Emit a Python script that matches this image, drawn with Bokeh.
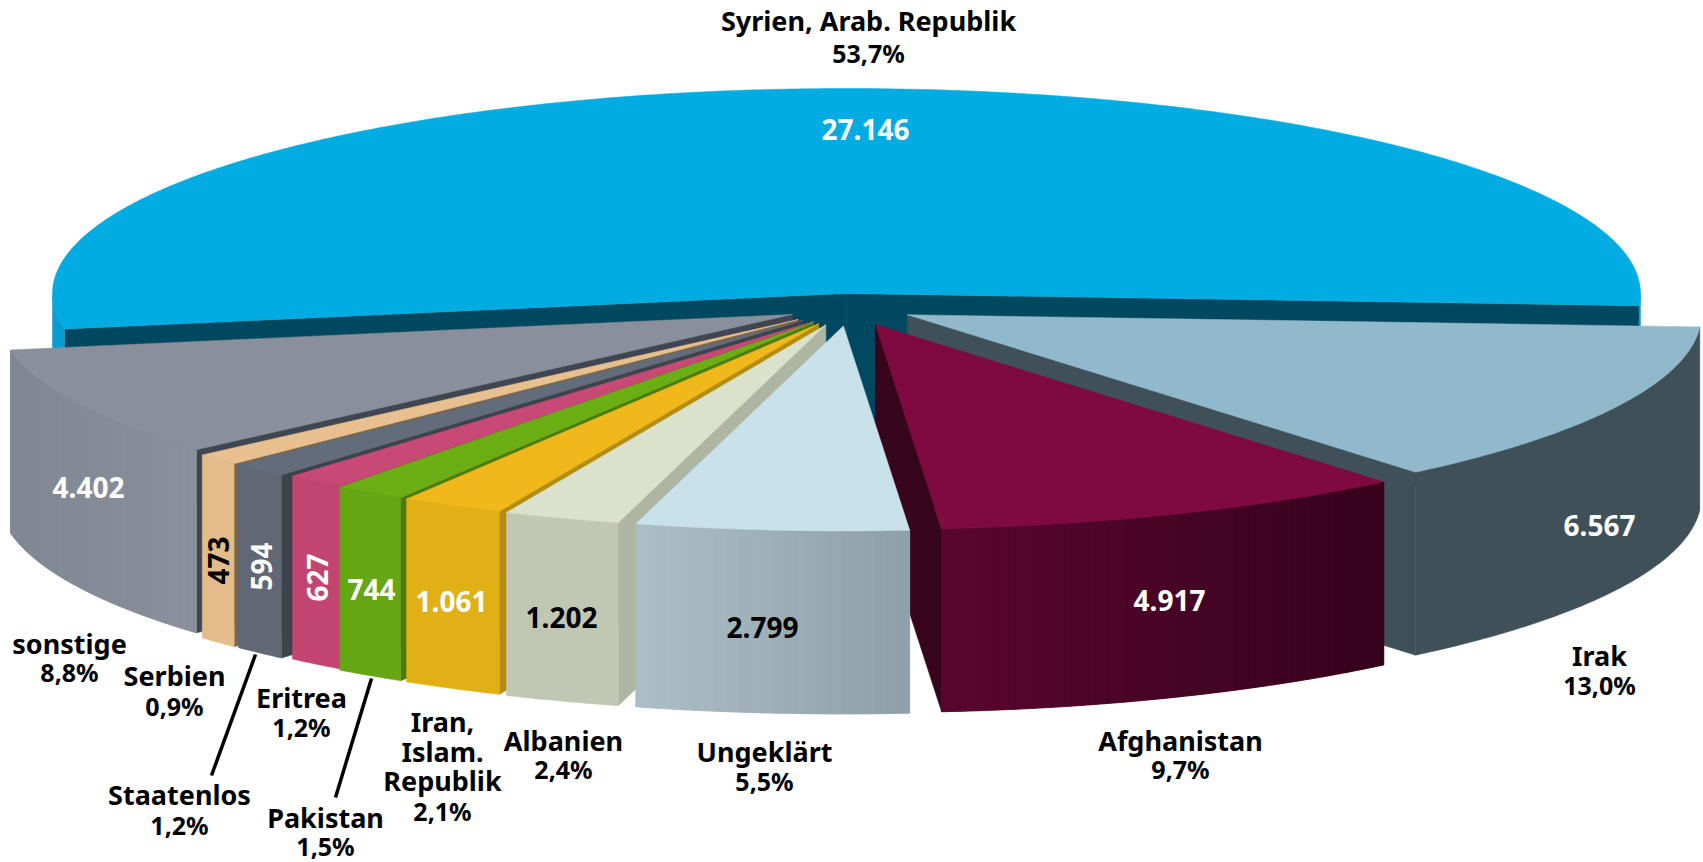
import numpy as np
from bokeh.plotting import figure
from bokeh.models import Range1d, ColumnDataSource
from bokeh.core.properties import value
from bokeh.embed import file_html
from bokeh.resources import INLINE

# ---- data (clockwise from the right-hand side of the pie)
categories = ["Irak", "Afghanistan", "Ungeklärt", "Albanien", "Iran,\nIslam.\nRepublik", "Pakistan",
              "Eritrea", "Staatenlos", "Serbien", "sonstige", "Syrien, Arab. Republik"]
values = [6567, 4917, 2799, 1202, 1061, 744, 627, 594, 473, 4402, 27146]
percents = ["13,0%", "9,7%", "5,5%", "2,4%", "2,1%", "1,5%", "1,2%", "1,2%", "0,9%", "8,8%", "53,7%"]

# ---- styles
top_col = ["#91B9CB", "#7F0A3F", "#C8E1EA", "#DAE2CB", "#F0B81B", "#6AAE13", "#C84876", "#636C7A", "#E8C08F", "#89909B", "#00ACE2"]
wall_l = ["#3F5058", "#5A062F", "#ACBFC7", "#C0C7B3", "#E0B015", "#66A514", "#C24471", "#5F6874", "#E3BC8A", "#808792", "#0A9BCF"]
wall_r = ["#3F5058", "#36021B", "#8F9FA7", "#C0C7B3", "#E0B015", "#66A514", "#C24471", "#5F6874", "#E3BC8A", "#8A919C", "#0A9BCF"]
side_col = ["#3F5058", "#37051C", "#8F9FA7", "#AEB5A2", "#B48C10", "#4A7A10", "#A03A5E", "#3D434C", "#7C6649", "#3F4651", "#00485F"]
num_col = ["white", "white", "black", "black", "white", "white", "white", "white", "black", "white", "white"]

# ---- layout of the drawing, in page pixels
W, H = 1703, 862
CX, CY, RX, RY = 846.0, 293.0, 794.0, 205.0
START = 3.4
DEPTH = 183.0
pull_x = [68, 76, 34, 62, 60, 60, 52, 64, 66, 60, 0]
EXPL_Y, EXPL_Y0 = 20.5, 12.0
name_pos = [(1599, 655, 684), (1180, 740, 768), (764, 751, 780), (563, 740, 768), (442, 721, 810), (325, 817, 845),
            (301, 697, 726), (179, 794, 824), (174, 675, 705), (69, 643, 671), (868, 20, 52)]
num_pos = [(1599, 525, 0), (1169, 600, 0), (762, 627, 0), (561, 617, 0), (451, 601, 0), (371, 589, 0),
           (317, 577, 90), (261, 566, 90), (218, 560, 90), (88, 487, 0), (865, 129, 0)]
leaders = [(255, 654, 211, 775), (371, 678, 335, 797)]


def hex2rgb(c):
    return np.array([int(c[i:i + 2], 16) for i in (1, 3, 5)], dtype=float)


def mix(a, b, f):
    r = hex2rgb(a) * (1 - f) + hex2rgb(b) * f
    return "#%02x%02x%02x" % tuple(int(round(v)) for v in r)


xs, ys, cols = [], [], []


def add(px, py, c):
    xs.append(list(np.round(px, 2)))
    ys.append(list(np.round(py, 2)))
    cols.append(c)


deg = 360.0 * np.array(values) / sum(values)
ends = START + np.cumsum(deg)
starts = ends - deg
exploded = [i != 10 for i in range(len(values))]
order = [10, 0, 1, 9, 8, 7, 6, 5, 4, 3, 2]

for i in order:
    t0, t1 = starts[i], ends[i]
    mid = np.radians((t0 + t1) / 2)
    if exploded[i]:
        ax = CX + pull_x[i] * np.cos(mid)
        ay = CY + EXPL_Y0 + EXPL_Y * np.sin(mid)
    else:
        ax, ay = CX, CY
    ts = np.radians(np.linspace(t0, t1, max(int(t1 - t0) * 2, 12)))
    ox = ax + RX * np.cos(ts)
    oy = ay + RY * np.sin(ts)
    # visible cut faces
    if np.sin(np.radians(t0 - 90)) > 0:
        add([ax, ox[0], ox[0], ax], [ay, oy[0], oy[0] + DEPTH, ay + DEPTH], side_col[i])
    if np.cos(np.radians(t1)) > 0:
        add([ax, ox[-1], ox[-1], ax], [ay, oy[-1], oy[-1] + DEPTH, ay + DEPTH], side_col[i])
    # outer wall: one base shape, then shaded strips where the colour changes
    idx = np.where(np.sin(ts) > -1e-9)[0]
    runs = np.split(idx, np.where(np.diff(idx) != 1)[0] + 1)
    for run in runs:
        if len(run) < 2:
            continue
        add(list(ox[run]) + list(ox[run][::-1]), list(oy[run]) + list(oy[run][::-1] + DEPTH), mix(wall_l[i], wall_r[i], 0.5))
    if wall_l[i] != wall_r[i] and len(idx) > 1:
        xmin, xmax = ox[idx].min(), ox[idx].max()
        bands = 24
        for b in range(bands):
            lo = xmin + (xmax - xmin) * b / bands
            hi = xmin + (xmax - xmin) * (b + 1) / bands + 0.5
            tb = np.linspace(0, 1, 8)
            bx = lo + (min(hi, xmax) - lo) * tb
            by = ay + RY * np.sqrt(np.clip(1 - ((bx - ax) / RX) ** 2, 0, 1))
            add(list(bx) + list(bx[::-1]), list(by) + list(by[::-1] + DEPTH), mix(wall_r[i], wall_l[i], 1 - (b + 0.5) / bands))
    # top face
    add([ax] + list(ox), [ay] + list(oy), top_col[i])

p = figure(width=W, height=H, x_range=Range1d(0, W), y_range=Range1d(H, 0),
           output_backend="svg", toolbar_location=None, min_border=0,
           outline_line_color=None, background_fill_color="white", border_fill_color="white")
p.axis.visible = False
p.grid.visible = False

src = ColumnDataSource(dict(xs=xs, ys=ys, c=cols))
p.patches("xs", "ys", source=src, fill_color="c", line_color="c", line_width=0.5)

FONT = value("Noto Sans")

for (x0, y0, x1, y1) in leaders:
    p.line([x0, x1], [y0, y1], line_color="black", line_width=3.5)

# numbers on the slices
for i, v in enumerate(values):
    s = f"{v:,}".replace(",", ".")
    x, y, rot = num_pos[i]
    p.text([x], [y], text=[s], text_font=FONT, text_font_style="bold", text_font_size="28px",
           text_color=num_col[i], text_align="center", text_baseline="middle", angle=[rot], angle_units="deg")

# names and shares
for i, name in enumerate(categories):
    x, y_name, y_pct = name_pos[i]
    lines = name.split("\n")
    step = (y_pct - y_name) / len(lines)
    for k, ln in enumerate(lines):
        p.text([x], [y_name + k * step], text=[ln], text_font=FONT, text_font_style="bold", text_font_size="27px",
               text_color="black", text_align="center", text_baseline="middle")
    p.text([x], [y_pct], text=[percents[i]], text_font=FONT, text_font_style="bold", text_font_size="25px",
           text_color="black", text_align="center", text_baseline="middle")

open("out.html", "w").write(file_html(p, INLINE))
